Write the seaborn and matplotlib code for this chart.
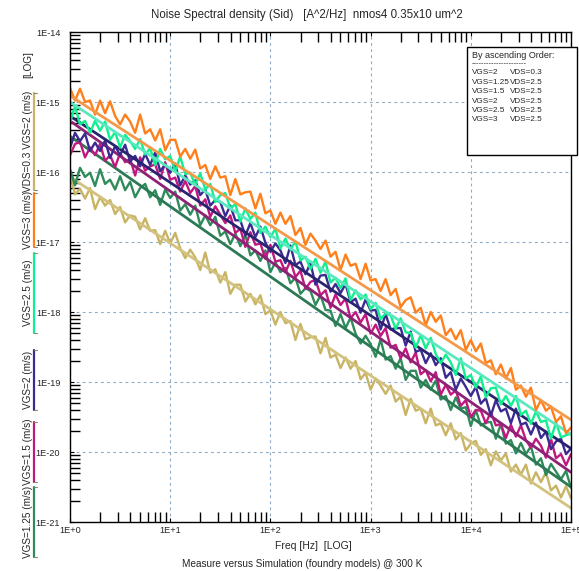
import matplotlib
matplotlib.use("Agg")
import numpy as np
import pandas as pd
import seaborn as sns
import matplotlib.pyplot as plt
from matplotlib.lines import Line2D
from matplotlib.patches import Rectangle
from matplotlib.ticker import LogLocator, FixedLocator, NullFormatter, FuncFormatter

# ---------------- data (log10 values) ----------------
freq_log = [0.00, 0.05, 0.10, 0.15, 0.20, 0.25, 0.30, 0.35, 0.40, 0.45,
            0.50, 0.55, 0.60, 0.65, 0.70, 0.75, 0.80, 0.85, 0.90, 0.95,
            1.00, 1.05, 1.10, 1.15, 1.20, 1.25, 1.30, 1.35, 1.40, 1.45,
            1.50, 1.55, 1.60, 1.65, 1.70, 1.75, 1.80, 1.85, 1.90, 1.95,
            2.00, 2.05, 2.10, 2.15, 2.20, 2.25, 2.30, 2.35, 2.40, 2.45,
            2.50, 2.55, 2.60, 2.65, 2.70, 2.75, 2.80, 2.85, 2.90, 2.95,
            3.00, 3.05, 3.10, 3.15, 3.20, 3.25, 3.30, 3.35, 3.40, 3.45,
            3.50, 3.55, 3.60, 3.65, 3.70, 3.75, 3.80, 3.85, 3.90, 3.95,
            4.00, 4.05, 4.10, 4.15, 4.20, 4.25, 4.30, 4.35, 4.40, 4.45,
            4.50, 4.55, 4.60, 4.65, 4.70, 4.75, 4.80, 4.85, 4.90, 4.95, 5.00]

meas_vgs3 = [-14.80, -14.98, -14.81, -15.00, -14.98, -15.18, -14.98, -15.16, -14.99, -15.20,
             -15.32, -15.18, -15.28, -15.44, -15.18, -15.45, -15.39, -15.55, -15.39, -15.69,
             -15.54, -15.54, -15.78, -15.67, -15.81, -15.68, -15.95, -15.90, -16.10, -15.92,
             -16.08, -16.06, -16.33, -16.10, -16.32, -16.29, -16.28, -16.52, -16.31, -16.59,
             -16.55, -16.74, -16.58, -16.74, -16.63, -16.90, -16.80, -17.04, -16.88, -16.98,
             -17.10, -16.98, -17.21, -17.14, -17.40, -17.18, -17.34, -17.31, -17.53, -17.31,
             -17.55, -17.53, -17.70, -17.53, -17.76, -17.67, -17.93, -17.83, -17.79, -18.01,
             -17.94, -18.19, -18.00, -18.14, -18.05, -18.33, -18.24, -18.39, -18.26, -18.54,
             -18.40, -18.56, -18.45, -18.73, -18.69, -18.89, -18.75, -18.95, -18.80, -19.11,
             -19.05, -19.21, -19.08, -19.40, -19.26, -19.41, -19.35, -19.57, -19.49, -19.73, -19.65]
meas_vgs25 = [-15.29, -15.06, -15.32, -15.27, -15.44, -15.27, -15.41, -15.28, -15.54, -15.43,
              -15.65, -15.47, -15.56, -15.67, -15.53, -15.75, -15.66, -15.90, -15.67, -15.82,
              -15.77, -15.99, -15.78, -16.03, -16.01, -16.18, -16.02, -16.25, -16.17, -16.43,
              -16.33, -16.30, -16.52, -16.46, -16.71, -16.52, -16.67, -16.58, -16.87, -16.78,
              -16.93, -16.81, -17.09, -16.95, -17.11, -16.99, -17.26, -17.21, -17.39, -17.24,
              -17.44, -17.28, -17.58, -17.51, -17.66, -17.52, -17.83, -17.69, -17.82, -17.75,
              -17.96, -17.87, -18.10, -18.02, -18.05, -18.24, -18.09, -18.29, -18.30, -18.51,
              -18.33, -18.52, -18.37, -18.60, -18.73, -18.61, -18.72, -18.90, -18.66, -18.95,
              -18.90, -19.08, -18.92, -19.22, -19.09, -19.08, -19.32, -19.20, -19.34, -19.20,
              -19.47, -19.41, -19.60, -19.42, -19.57, -19.55, -19.81, -19.58, -19.79, -19.76, -19.74]
meas_vgs2 = [-15.66, -15.44, -15.56, -15.45, -15.70, -15.58, -15.70, -15.55, -15.80, -15.63,
             -15.76, -15.61, -15.85, -15.77, -15.92, -15.74, -15.90, -15.72, -15.99, -15.89,
             -16.01, -15.88, -16.19, -16.05, -16.18, -16.12, -16.33, -16.25, -16.48, -16.40,
             -16.43, -16.63, -16.48, -16.69, -16.69, -16.91, -16.73, -16.93, -16.78, -17.01,
             -17.14, -17.02, -17.12, -17.30, -17.05, -17.33, -17.28, -17.46, -17.30, -17.61,
             -17.48, -17.47, -17.71, -17.60, -17.73, -17.60, -17.86, -17.81, -18.01, -17.82,
             -17.98, -17.97, -18.25, -18.03, -18.25, -18.23, -18.23, -18.48, -18.28, -18.57,
             -18.54, -18.73, -18.59, -18.76, -18.66, -18.94, -18.86, -19.11, -18.95, -19.07,
             -19.20, -19.07, -19.31, -19.23, -19.48, -19.26, -19.42, -19.38, -19.59, -19.38,
             -19.61, -19.58, -19.75, -19.58, -19.80, -19.71, -19.96, -19.85, -19.81, -20.03, -19.95]
meas_vgs15 = [-15.76, -15.60, -15.57, -15.79, -15.65, -15.76, -15.60, -15.84, -15.76, -15.93,
              -15.73, -15.86, -15.81, -16.05, -15.79, -15.98, -15.92, -15.89, -16.10, -15.86,
              -16.11, -16.08, -16.28, -16.13, -16.30, -16.20, -16.48, -16.39, -16.64, -16.49,
              -16.61, -16.73, -16.62, -16.87, -16.81, -17.07, -16.86, -17.04, -17.02, -17.24,
              -17.04, -17.28, -17.26, -17.43, -17.27, -17.50, -17.41, -17.67, -17.57, -17.54,
              -17.76, -17.69, -17.94, -17.75, -17.90, -17.81, -18.09, -18.00, -18.15, -18.03,
              -18.31, -18.18, -18.34, -18.23, -18.51, -18.47, -18.66, -18.52, -18.72, -18.58,
              -18.89, -18.83, -18.99, -18.86, -19.18, -19.04, -19.18, -19.12, -19.34, -19.26,
              -19.50, -19.40, -19.41, -19.59, -19.43, -19.62, -19.60, -19.80, -19.61, -19.78,
              -19.62, -19.83, -19.94, -19.81, -19.91, -20.08, -19.81, -20.09, -20.03, -20.19, -20.03]
meas_vgs125 = [-15.96, -16.19, -15.94, -16.07, -16.01, -16.20, -15.96, -16.17, -16.11, -16.25,
               -16.06, -16.26, -16.14, -16.36, -16.23, -16.17, -16.36, -16.26, -16.47, -16.25,
               -16.37, -16.28, -16.55, -16.46, -16.61, -16.48, -16.76, -16.62, -16.76, -16.64,
               -16.91, -16.85, -17.03, -16.88, -17.06, -16.90, -17.19, -17.12, -17.27, -17.12,
               -17.43, -17.29, -17.43, -17.37, -17.59, -17.51, -17.74, -17.66, -17.70, -17.90,
               -17.76, -17.97, -17.98, -18.20, -18.03, -18.23, -18.08, -18.31, -18.45, -18.34,
               -18.46, -18.64, -18.39, -18.68, -18.63, -18.81, -18.66, -18.97, -18.84, -18.84,
               -19.08, -18.97, -19.11, -18.98, -19.25, -19.20, -19.40, -19.22, -19.38, -19.36,
               -19.63, -19.40, -19.62, -19.58, -19.57, -19.81, -19.60, -19.88, -19.83, -20.02,
               -19.87, -20.03, -19.92, -20.18, -20.09, -20.33, -20.17, -20.28, -20.39, -20.27, -20.51]
meas_vds03 = [-16.03, -16.32, -16.24, -16.38, -16.23, -16.53, -16.36, -16.48, -16.40, -16.60,
              -16.50, -16.72, -16.62, -16.64, -16.82, -16.66, -16.84, -16.83, -17.03, -16.84,
              -17.02, -16.87, -17.09, -17.23, -17.11, -17.22, -17.40, -17.15, -17.44, -17.39,
              -17.58, -17.43, -17.74, -17.61, -17.61, -17.85, -17.74, -17.89, -17.76, -18.03,
              -17.98, -18.18, -18.00, -18.16, -18.13, -18.40, -18.17, -18.39, -18.36, -18.35,
              -18.59, -18.37, -18.65, -18.61, -18.80, -18.65, -18.81, -18.70, -18.96, -18.87,
              -19.11, -18.95, -19.05, -19.17, -19.05, -19.28, -19.21, -19.47, -19.24, -19.41,
              -19.38, -19.59, -19.38, -19.62, -19.59, -19.76, -19.59, -19.82, -19.73, -19.98,
              -19.88, -19.84, -20.04, -19.96, -20.19, -19.99, -20.12, -20.02, -20.28, -20.18,
              -20.32, -20.18, -20.45, -20.29, -20.43, -20.29, -20.55, -20.48, -20.65, -20.49, -20.66]

# simulation lines: log10 value at 1 Hz and at 1E+5 Hz
sim_freq_log = [0.0, 5.0]
sim_vgs3 = [-14.91, -19.54]
sim_vgs25 = [-15.00, -19.75]
sim_vgs2 = [-15.20, -19.95]
sim_vgs15 = [-15.27, -20.29]
sim_vgs125 = [-15.49, -20.50]
sim_vds03 = [-16.07, -20.80]

x_ticks = ["1E+0", "1E+1", "1E+2", "1E+3", "1E+4", "1E+5"]
y_ticks = ["1E-21", "1E-20", "1E-19", "1E-18", "1E-17", "1E-16", "1E-15", "1E-14"]

legend_vgs = ["VGS=2", "VGS=1.25", "VGS=1.5", "VGS=2", "VGS=2.5", "VGS=3"]
legend_vds = ["VDS=0.3", "VDS=2.5", "VDS=2.5", "VDS=2.5", "VDS=2.5", "VDS=2.5"]

ylabel_parts = ["VGS=1.25 (m/s)", "VGS=1.5 (m/s)", "VGS=2 (m/s)", "VGS=2.5 (m/s)",
                "VGS=3 (m/s)", "VDS=0.3 VGS=2 (m/s)"]

# ---------------- style ----------------
sns.set_theme(style="white")
plt.rcParams["font.family"] = ["Liberation Sans", "DejaVu Sans"]

C_OR = "#FF7F1A"
C_SG = "#10F090"
C_NV = "#3B2A90"
C_MG = "#C0187E"
C_GR = "#2E8B5A"
C_KH = "#C8B464"

meas = [(meas_vds03, C_KH), (meas_vgs125, C_GR), (meas_vgs15, C_MG),
        (meas_vgs2, C_NV), (meas_vgs25, C_SG), (meas_vgs3, C_OR)]
sims = [(sim_vds03, "#D2C27E"), (sim_vgs125, "#2C7A55"), (sim_vgs15, "#8E2275"),
        (sim_vgs2, "#2A2470"), (sim_vgs25, "#5BE8C0"), (sim_vgs3, "#F29A4A")]

W, H = 579, 571
fig = plt.figure(figsize=(W / 100, H / 100), dpi=100)
L, R, T, B = 70, 571, 32, 522
ax = fig.add_axes([L / W, 1 - B / H, (R - L) / W, (B - T) / H])

f_meas = [10 ** v for v in freq_log]
f_sim = [10 ** v for v in sim_freq_log]
for (m, c), (s, cs) in zip(meas, sims):
    sns.lineplot(x=f_meas, y=[10 ** v for v in m], ax=ax, color=c, lw=1.7,
                 estimator=None, sort=False)
    sns.lineplot(x=f_sim, y=[10 ** v for v in s], ax=ax, color=cs, lw=2.0,
                 estimator=None, sort=False)

ax.set_xscale("log")
ax.set_yscale("log")
ax.set_xlim(1, 1e5)
ax.set_ylim(1e-21, 1e-14)
ax.set_xlabel("")
ax.set_ylabel("")

ax.xaxis.set_major_locator(FixedLocator([10.0 ** i for i in range(6)]))
ax.xaxis.set_major_formatter(FuncFormatter(lambda v, p: x_ticks[int(round(np.log10(v)))]))
ax.yaxis.set_major_locator(FixedLocator([10.0 ** i for i in range(-21, -13)]))
ax.yaxis.set_major_formatter(FuncFormatter(lambda v, p: y_ticks[int(round(np.log10(v))) + 21]))
ax.xaxis.set_minor_locator(LogLocator(base=10, subs=range(2, 10), numticks=20))
ax.yaxis.set_minor_locator(LogLocator(base=10, subs=range(2, 10), numticks=20))
ax.xaxis.set_minor_formatter(NullFormatter())
ax.yaxis.set_minor_formatter(NullFormatter())

ax.tick_params(axis="both", which="minor", direction="in", length=7.5, width=1.0,
               color="black", top=True, bottom=True, left=True, right=False)
ax.tick_params(axis="both", which="major", direction="in", length=3, width=0.8,
               color="black", top=True, bottom=True, left=True, right=False,
               labelsize=6.6, pad=7)
ax.tick_params(axis="x", which="major", pad=3)

ax.grid(True, which="major", color="#8FAAC4", linestyle=(0, (2.5, 3)), linewidth=0.8)
for sp in ax.spines.values():
    sp.set_color("black")
    sp.set_linewidth(1.0)

# titles / labels
fig.text(307 / W, 1 - 15 / H, "Noise Spectral density (Sid)   [A^2/Hz]  nmos4 0.35x10 um^2",
         ha="center", va="center", fontsize=8.3)
fig.text(313 / W, 1 - 546 / H, "Freq [Hz]  [LOG]", ha="center", va="center", fontsize=7.5)
fig.text(302 / W, 1 - 564 / H, "Measure versus Simulation (foundry models) @ 300 K",
         ha="center", va="center", fontsize=7.2)

# multicoloured y label
ylab_spans = [(487, 557), (422, 482), (350, 410), (253, 333), (193, 247), (93, 190)]
ylab_cols = [C_GR, C_MG, C_NV, C_SG, C_OR, C_KH]
for txt, (y0, y1), col in zip(ylabel_parts, ylab_spans, ylab_cols):
    fig.text(28 / W, 1 - (y0 + y1) / 2 / H, txt, rotation=90, ha="center", va="center",
             fontsize=7.2)
    fig.add_artist(Line2D([34 / W, 34 / W], [1 - y0 / H, 1 - y1 / H], color=col, lw=1.6,
                          transform=fig.transFigure))
    for yy in (y0, y1):
        fig.add_artist(Line2D([34 / W, 37 / W], [1 - yy / H, 1 - yy / H], color="#8a8a6a",
                              lw=0.8, transform=fig.transFigure))
fig.text(28 / W, 1 - 65 / H, "[LOG]", rotation=90, ha="center", va="center", fontsize=7.2)

# legend box
bx0, by0, bx1, by1 = 467, 47, 577, 155
fig.add_artist(Rectangle((bx0 / W, 1 - by1 / H), (bx1 - bx0) / W, (by1 - by0) / H,
                         transform=fig.transFigure, facecolor="white", edgecolor="black",
                         lw=1.0, zorder=5))
fig.text(472 / W, 1 - 55 / H, "By ascending Order:", ha="left", va="center",
         fontsize=6.5, zorder=6)
fig.text(472 / W, 1 - 64 / H, "-" * 22, ha="left", va="center", fontsize=5.5, zorder=6)
for i, (a, b) in enumerate(zip(legend_vgs, legend_vds)):
    yy = 73 + i * 9.4
    fig.text(472 / W, 1 - yy / H, a, ha="left", va="center", fontsize=5.9, zorder=6)
    fig.text(510 / W, 1 - yy / H, b, ha="left", va="center", fontsize=5.9, zorder=6)

fig.savefig("out.png", dpi=100, facecolor="white")
